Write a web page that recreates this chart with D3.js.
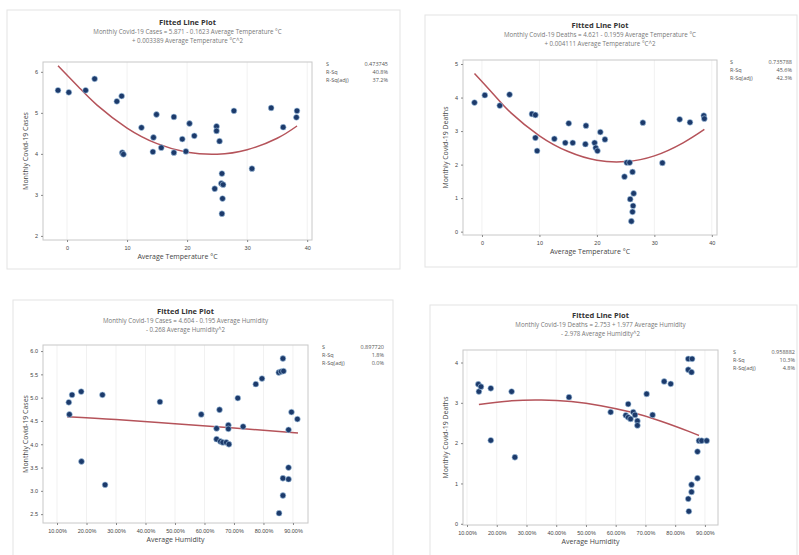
<!DOCTYPE html>
<html>
<head>
<meta charset="utf-8">
<script src="https://cdn.jsdelivr.net/npm/d3@7"></script>
<style>
  body { margin: 0; background: #fff; font-family: "Open Sans", "Noto Sans", sans-serif; }
</style>
</head>
<body>
<div id="chart"></div>
<script>
//Data
const tempCasesX = [-1.5, 0.3, 3.1, 4.6, 8.3, 9.1, 9.2, 9.4, 12.4, 14.4, 14.3, 14.9, 15.7, 17.8, 17.8, 19.2, 19.8, 20.4, 21.2, 24.6, 24.9, 24.9, 25.4, 25.7, 26.0, 25.8, 25.9, 25.8, 27.8, 30.8, 34.0, 36.0, 38.3, 38.2];
const tempCasesY = [5.55, 5.50, 5.55, 5.83, 5.28, 5.41, 4.03, 3.99, 4.64, 4.40, 4.05, 4.96, 4.15, 4.90, 4.03, 4.36, 4.06, 4.74, 4.44, 3.15, 4.67, 4.56, 4.31, 3.28, 3.25, 3.52, 2.91, 2.54, 5.05, 3.64, 5.12, 4.65, 5.05, 4.89];
const tempCasesFitX = [-1.5, 2, 5, 10, 15, 20, 25, 30, 35, 38.3];
const tempCasesFitY = [6.15, 5.62, 5.19, 4.63, 4.25, 4.04, 3.99, 4.10, 4.38, 4.68];

const tempDeathsX = [-1.3, 0.5, 3.1, 4.8, 8.7, 9.3, 9.3, 9.6, 12.6, 14.5, 15.1, 15.8, 18.0, 18.1, 19.6, 19.8, 20.1, 20.6, 21.4, 24.8, 25.2, 25.7, 26.2, 26.4, 25.8, 26.3, 26.2, 26.0, 28.0, 31.4, 34.4, 36.2, 38.6, 38.7];
const tempDeathsY = [3.85, 4.07, 3.76, 4.09, 3.51, 3.48, 2.80, 2.41, 2.77, 2.65, 3.23, 2.65, 2.61, 3.16, 2.65, 2.50, 2.41, 2.97, 2.75, 1.64, 2.06, 2.06, 1.78, 1.14, 0.97, 0.77, 0.59, 0.31, 3.25, 2.05, 3.35, 3.26, 3.46, 3.37];
const tempDeathsFitX = [-1.3, 2, 5, 10, 15, 20, 25, 30, 35, 38.7];
const tempDeathsFitY = [4.72, 4.10, 3.55, 2.86, 2.39, 2.13, 2.09, 2.26, 2.65, 3.05];

const humCasesX = [14.0, 14.2, 15.1, 18.2, 18.3, 25.4, 26.3, 44.9, 58.9, 64.1, 64.1, 65.1, 65.4, 66.2, 67.4, 68.1, 68.1, 68.3, 71.3, 73.1, 77.4, 79.5, 85.2, 86.0, 86.6, 86.8, 85.3, 86.6, 86.6, 88.5, 88.5, 88.5, 89.5, 91.5];
const humCasesY = [4.90, 4.64, 5.06, 5.13, 3.63, 5.06, 3.13, 4.91, 4.64, 4.34, 4.11, 4.74, 4.06, 4.04, 4.04, 4.41, 4.33, 4.00, 4.99, 4.38, 5.29, 5.41, 5.54, 5.56, 5.84, 5.57, 2.52, 2.90, 3.27, 3.25, 3.50, 4.31, 4.69, 4.54];
const humCasesFitX = [13.4, 30, 50, 70, 91.7];
const humCasesFitY = [4.59, 4.53, 4.44, 4.35, 4.24];

const humDeathsX = [13.8, 14.0, 14.7, 18.0, 18.0, 25.0, 26.1, 44.3, 58.3, 64.2, 63.4, 64.2, 65.0, 65.9, 66.5, 67.3, 67.3, 70.4, 72.4, 76.3, 78.5, 84.4, 85.7, 84.4, 85.5, 84.4, 84.6, 85.5, 85.5, 87.5, 87.5, 88.0, 88.9, 90.6];
const humDeathsY = [3.46, 3.28, 3.40, 3.36, 2.07, 3.28, 1.65, 3.14, 2.77, 2.97, 2.69, 2.64, 2.60, 2.77, 2.70, 2.55, 2.44, 3.22, 2.70, 3.53, 3.47, 4.09, 4.09, 3.82, 3.76, 0.62, 0.31, 0.97, 0.79, 1.13, 1.79, 2.06, 2.06, 2.06];
const humDeathsFitX = [14, 25, 35, 45, 55, 65, 75, 85, 88];
const humDeathsFitY = [2.96, 3.05, 3.07, 3.03, 2.93, 2.77, 2.55, 2.28, 2.19];

//Tick labels
const tempTicks = [0, 10, 20, 30, 40];
const humTicks = [10, 20, 30, 40, 50, 60, 70, 80, 90];
const casesTempTicks = [2, 3, 4, 5, 6];
const deathsTempTicks = [0, 1, 2, 3, 4, 5];
const casesHumTicks = [2.5, 3.0, 3.5, 4.0, 4.5, 5.0, 5.5, 6.0];
const deathsHumTicks = [0, 1, 2, 3, 4];

//Equations and stats
const equations = [
  ["Monthly Covid-19 Cases = 5.871 - 0.1623 Average Temperature °C", "+ 0.003389 Average Temperature °C^2"],
  ["Monthly Covid-19 Deaths = 4.621 - 0.1959 Average Temperature °C", "+ 0.004111 Average Temperature °C^2"],
  ["Monthly Covid-19 Cases = 4.604 - 0.195 Average Humidity", "- 0.268 Average Humidity^2"],
  ["Monthly Covid-19 Deaths = 2.753 + 1.977 Average Humidity", "- 2.978 Average Humidity^2"]
];
const statLabels = ["S", "R-Sq", "R-Sq(adj)"];
const statValues = [
  ["0.473745", "40.8%", "37.2%"],
  ["0.735788", "45.6%", "42.3%"],
  ["0.897720", "1.8%", "0.0%"],
  ["0.958882", "10.3%", "4.8%"]
];

const width = 799;
const height = 555;

const svg = d3.select("#chart").append("svg").attr("width", width).attr("height", height);

const panels = [
  { frame: [7, 10, 393, 259], plot: [43, 62, 312, 240], xDom: [-4.0, 40.8], yDom: [1.90, 6.24],
    xs: tempCasesX, ys: tempCasesY, fx: tempCasesFitX, fy: tempCasesFitY, xt: tempTicks, yt: casesTempTicks,
    xFmt: d => d, yFmt: d => d, xTitle: "Average Temperature °C", yTitle: "Monthly Covid-19 Cases",
    titleY: 25, statX: 326 },
  { frame: [425, 15, 372, 252], plot: [463, 60, 717, 235], xDom: [-3.3, 40.9], yDom: [-0.10, 5.12],
    xs: tempDeathsX, ys: tempDeathsY, fx: tempDeathsFitX, fy: tempDeathsFitY, xt: tempTicks, yt: deathsTempTicks,
    xFmt: d => d, yFmt: d => d, xTitle: "Average Temperature °C", yTitle: "Monthly Covid-19 Deaths",
    titleY: 28, statX: 730 },
  { frame: [13, 300, 380, 260], plot: [43, 345, 308, 523], xDom: [5.25, 95.1], yDom: [2.31, 6.13],
    xs: humCasesX, ys: humCasesY, fx: humCasesFitX, fy: humCasesFitY, xt: humTicks, yt: casesHumTicks,
    xFmt: d => d3.format(".2f")(d) + "%", yFmt: d3.format(".1f"), xTitle: "Average Humidity", yTitle: "Monthly Covid-19 Cases",
    titleY: 314, statX: 322 },
  { frame: [430, 305, 367, 255], plot: [463, 350, 718, 525], xDom: [8.65, 94.4], yDom: [-0.03, 4.31],
    xs: humDeathsX, ys: humDeathsY, fx: humDeathsFitX, fy: humDeathsFitY, xt: humTicks, yt: deathsHumTicks,
    xFmt: d => d3.format(".2f")(d) + "%", yFmt: d => d, xTitle: "Average Humidity", yTitle: "Monthly Covid-19 Deaths",
    titleY: 318, statX: 733 }
];

panels.forEach((p, i) => {
  const [fx0, fy0, fw, fh] = p.frame;
  const [x0, y0, x1, y1] = p.plot;
  const g = svg.append("g");

  //outer frame
  g.append("rect").attr("x", fx0).attr("y", fy0).attr("width", fw).attr("height", fh)
    .attr("fill", "#fff").attr("stroke", "#e3e3e3").attr("stroke-width", 1);

  const x = d3.scaleLinear().domain(p.xDom).range([x0, x1]);
  const y = d3.scaleLinear().domain(p.yDom).range([y1, y0]);

  //faint grid lines
  g.selectAll(".grid").data(p.xt).enter().append("line")
    .attr("x1", d => x(d)).attr("x2", d => x(d)).attr("y1", y0).attr("y2", y1)
    .attr("stroke", "#f1f1f1");

  //plot border
  g.append("rect").attr("x", x0).attr("y", y0).attr("width", x1 - x0).attr("height", y1 - y0)
    .attr("fill", "none").attr("stroke", "#c8c8c8");

  //axes
  const xAxis = g.append("g").attr("transform", `translate(0,${y1})`)
    .call(d3.axisBottom(x).tickValues(p.xt).tickFormat(p.xFmt).tickSize(2).tickPadding(4));
  const yAxis = g.append("g").attr("transform", `translate(${x0},0)`)
    .call(d3.axisLeft(y).tickValues(p.yt).tickFormat(p.yFmt).tickSize(2).tickPadding(3));
  [xAxis, yAxis].forEach(a => {
    a.select(".domain").remove();
    a.selectAll("line").attr("stroke", "#888");
    a.selectAll("text").attr("fill", "#444").style("font-size", "5.5px");
  });

  //fitted line
  const pts = p.fx.map((v, k) => [v, p.fy[k]]);
  g.append("path").datum(pts)
    .attr("d", d3.line().x(d => x(d[0])).y(d => y(d[1])).curve(d3.curveNatural))
    .attr("fill", "none").attr("stroke", "#b5535a").attr("stroke-width", 1.5);

  //points
  g.selectAll(".pt").data(p.xs.map((v, k) => [v, p.ys[k]])).enter().append("circle")
    .attr("cx", d => x(d[0])).attr("cy", d => y(d[1])).attr("r", 2.9)
    .attr("fill", "#1c3a6b").attr("stroke", "#a9cbe8").attr("stroke-width", 0.6);

  //titles
  const cx = (x0 + x1) / 2 + 10;
  g.append("text").attr("x", cx).attr("y", p.titleY).attr("text-anchor", "middle")
    .style("font-size", "7.5px").style("font-weight", "bold").attr("fill", "#333").text("Fitted Line Plot");
  equations[i].forEach((line, k) => {
    g.append("text").attr("x", cx).attr("y", p.titleY + 9 + k * 9).attr("text-anchor", "middle")
      .style("font-size", "6.2px").attr("fill", "#777").text(line);
  });

  g.append("text").attr("x", (x0 + x1) / 2).attr("y", y1 + 19).attr("text-anchor", "middle")
    .style("font-size", "7px").attr("fill", "#444").text(p.xTitle);
  g.append("text").attr("transform", `translate(${x0 - 15},${(y0 + y1) / 2}) rotate(-90)`)
    .attr("text-anchor", "middle").style("font-size", "7px").attr("fill", "#444").text(p.yTitle);

  //stats box
  statLabels.forEach((s, k) => {
    g.append("text").attr("x", p.statX).attr("y", y0 + 4 + k * 8)
      .style("font-size", "5.5px").attr("fill", "#555").text(s);
    g.append("text").attr("x", p.statX + 62).attr("y", y0 + 4 + k * 8).attr("text-anchor", "end")
      .style("font-size", "5.5px").attr("fill", "#555").text(statValues[i][k]);
  });
});
</script>
</body>
</html>
